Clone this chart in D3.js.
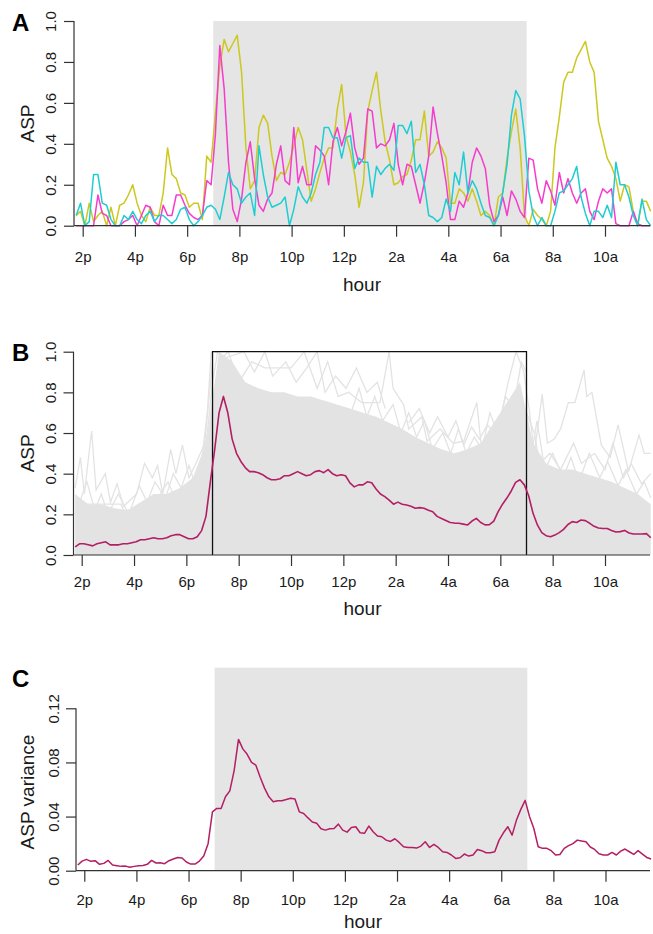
<!DOCTYPE html>
<html>
<head>
<meta charset="utf-8">
<script src="https://cdnjs.cloudflare.com/ajax/libs/d3/7.8.5/d3.min.js"></script>
<style>
body { margin: 0; background: #fff; }
svg text { font-family: "Liberation Sans", Arial, Helvetica, sans-serif; fill: #1a1a1a; }
</style>
</head>
<body>
<div id="chart"></div>
<script>

// ten minute bins, in hours after 2p (first bin is 1:45p)
var binStart = -0.25;
var binHours = 1 / 6;

var hourTicks = [0, 2, 4, 6, 8, 10, 12, 14, 16, 18, 20];
var hourLabels = ["2p", "4p", "6p", "8p", "10p", "12p", "2a", "4a", "6a", "8a", "10a"];
var lightsOff = 5;   // 7p
var lightsOn = 17;   // 7a

var aspTicks = [0, 0.2, 0.4, 0.6, 0.8, 1.0];
var varTicks = [0, 0.04, 0.08, 0.12];

// panel A: three single animals
var aspYellow = [0.05,0.07,0,0.11,0.02,0.05,0.07,0,0.09,0, 0.10,0.11,0.15,0.20,0.11,0.05,0.02,0.09,0.05,0.05,
    0.16,0.38,0.25,0.23,0.16,0.15,0.09,0.11,0.11,0.03, 0.34,0.31,0.55,0.78,
    0.91,0.85,0.89,0.93,0.75,0.38,0.18,0.22,0.48,0.54, 0.50,0.34,0.22,0.26,0.25,0.31,0.39,0.48,0.42,0.27,
    0.12,0.18,0.26,0.33,0.38,0.38,0.57,0.69,0.44,0.36, 0.25,0.09,0.21,
    0.56,0.66,0.75,0.56,0.41,0.32,0.20,0.21,0.24,0.25, 0.32,0.42,0.42,0.56,0.34,0.36,0.41,0.38,0.33,0.11,
    0.11,0.18,0.16,0.12,0.18,0.12,0.05,0.07,0.05,0, 0.14,0.16,0.33,
    0.46,0.57,0.38,0.05,0,0.08,0.05,0.03,0,0.07, 0.38,0.53,0.70,0.75,0.75,0.82,0.86,0.90,0.80,0.75,
    0.51,0.42,0.33,0.29,0.23,0.12,0.20,0.19,0.07,0, 0.12,0.12,0.07];

var aspCyan = [0.05,0.11,0,0.02,0.25,0.25,0.11,0.10,0.03,0, 0,0.05,0.03,0.07,0.03,0.01,0.05,0.07,0.02,0.05,
    0.05,0.03,0.01,0.03,0.08,0.09,0.03,0,0.02,0.05, 0.09,0.10,0.08,0.03,
    0.14,0.26,0.20,0.18,0.11,0.14,0.16,0.05,0.39,0.25, 0.14,0.09,0.10,0.11,0.14,0,0.08,0.19,0.14,0.11,
    0.16,0.25,0.31,0.48,0.48,0.43,0.43,0.33,0.43,0.44, 0.28,0.33,0.31,
    0.31,0.14,0.29,0.25,0.28,0.30,0.27,0.49,0.49,0.45, 0.51,0.26,0.30,0.20,0.05,0.04,0.02,0.04,0.13,0.07,
    0.26,0.20,0.36,0.16,0.22,0.18,0.11,0.05,0.04,0, 0.05,0.16,0.30,
    0.54,0.66,0.62,0.44,0.17,0.05,0,0.04,0,0, 0.07,0.16,0.17,0.20,0.23,0.29,0.14,0.06,0,0.07,
    0.07,0.04,0.10,0.04,0.31,0.20,0.20,0.14,0.05,0, 0.13,0.03,0];

var aspMagenta = [0,0,0,0,0,0.15,0.06,0.05,0,0, 0,0.02,0.03,0.05,0,0.05,0.10,0.09,0.02,0,
    0.10,0.05,0.05,0.15,0.15,0.10,0.06,0.04,0.03,0.05, 0.22,0.20,0.45,0.88,
    0.67,0.31,0.08,0.02,0.13,0.31,0.41,0.23,0.10,0.07, 0.13,0.16,0.30,0.39,0.22,0.20,0.48,0.21,0.29,0.20,
    0.20,0.39,0.37,0.34,0.20,0.41,0.48,0.39,0.46,0.55, 0.38,0.30,0.33,
    0.57,0.56,0.38,0.40,0.39,0.42,0.50,0.30,0.20,0.30, 0.29,0.20,0.11,0.21,0.34,0.58,0.45,0.34,0.21,0.03,
    0.03,0.12,0.09,0.16,0.31,0.38,0.34,0.28,0.10,0.02, 0.05,0.14,0.05,
    0.17,0.13,0.07,0.04,0.33,0.32,0.18,0.11,0.22,0.17, 0.10,0.26,0.16,0.23,0.16,0.11,0.16,0.18,0.07,0.03,
    0.12,0.18,0.16,0.18,0.01,0,0,0,0.07,0.01, 0,0,0];

// panel B: population mean
var meanASP = [0.04,0.055,0.055,0.05,0.045,0.055,0.06,0.065,0.05,0.05, 0.05,0.055,0.055,0.06,0.065,0.075,0.075,0.08,0.085,0.08,
    0.08,0.085,0.095,0.10,0.10,0.09,0.08,0.08,0.09,0.12, 0.19,0.36,0.52,0.70,
    0.78,0.70,0.57,0.50,0.46,0.43,0.41,0.41,0.405,0.395, 0.38,0.37,0.37,0.375,0.39,0.39,0.40,0.41,0.40,0.39,
    0.395,0.41,0.415,0.405,0.42,0.40,0.39,0.395,0.39,0.355, 0.335,0.345,0.345,
    0.36,0.355,0.325,0.30,0.287,0.27,0.25,0.26,0.25,0.246, 0.24,0.23,0.233,0.23,0.22,0.213,0.19,0.18,0.17,0.16,
    0.157,0.156,0.152,0.148,0.167,0.18,0.16,0.148,0.149,0.167, 0.213,0.25,0.28,
    0.315,0.357,0.37,0.345,0.29,0.205,0.148,0.11,0.095,0.09, 0.098,0.11,0.126,0.15,0.164,0.16,0.172,0.169,0.156,0.141,
    0.133,0.13,0.13,0.121,0.113,0.115,0.121,0.108,0.103,0.103, 0.103,0.105,0.085];

// panel B: dense part of the individual traces, half hour steps from 1:45p
var cloudStart = -0.25;
var cloudHours = 0.5;
var cloudTop = [0.30,0.25,0.25,0.23,0.22,0.26,0.30,0.30,0.33,0.38, 0.55,1.0,0.95,0.85,0.82,0.80,0.80,0.78,0.78,0.76,
    0.74,0.72,0.70,0.68,0.65,0.62,0.58,0.55,0.52,0.50, 0.52,0.55,0.65,0.75,0.85,0.55,0.45,0.42,0.42,0.40,
    0.38,0.36,0.33,0.30,0.25];

// panel B: single traces that stick out of the cloud, [hour after 2p, ASP]
var traceEarly = [[-0.25,0.33],[-0.05,0.48],[0.1,0.3],[0.38,0.61],[0.55,0.32],[0.9,0.4],[1.1,0.26],[1.35,0.35],[1.6,0.24],
    [2.1,0.3],[2.4,0.45],[2.7,0.38],[2.9,0.44],[3.1,0.3],[3.4,0.52],[3.6,0.4],[3.85,0.54],[4.1,0.38],[4.4,0.46],[4.7,0.55],[5.0,0.95]];
var traceFlat = [[-0.25,0.25],[1.5,0.25],[1.6,0.22],[2.9,0.22],[3.0,0.3],[3.3,0.36],[3.55,0.28],[4.0,0.33],[4.5,0.4],[4.8,0.6],[5.0,0.85],[5.2,1.0]];
var traceAfternoon = [[-0.25,0.2],[0.2,0.36],[0.5,0.22],[0.75,0.3],[1.0,0.2],[1.4,0.3],[1.8,0.2],[2.2,0.34],[2.5,0.26],
    [2.8,0.36],[3.2,0.28],[3.5,0.4],[3.8,0.33],[4.1,0.44],[4.3,0.36],[4.6,0.48],[4.8,0.7],[4.95,1.0]];
var traceNight = [[5.2,0.95],[5.6,1.0],[6.0,0.85],[6.5,0.95],[7.0,0.92],[7.5,0.92],[8.0,0.92],[8.5,1.0],[9.0,0.82],[9.4,0.95],
    [9.8,0.78],[10.2,0.8],[10.7,0.75],[11.4,0.75],[11.75,1.0],[11.9,0.82],[12.3,0.74],[12.5,0.62],[13.0,0.68],[13.2,0.56],
    [13.7,0.62],[14.2,0.55],[14.6,0.56],[15.1,0.75],[15.3,0.5],[15.8,0.55],[16.3,0.85],[16.6,1.0],[16.9,0.9],[17.0,0.8]];
var traceNight2 = [[5.1,1.0],[5.5,0.97],[6.2,1.0],[6.6,0.9],[7.0,1.0],[7.3,0.88],[7.8,0.95],[8.2,0.85],[8.6,0.92],[9.0,1.0],
    [9.3,0.8],[9.7,0.88],[10.1,0.82],[10.5,0.92],[10.9,0.8],[11.3,0.85],[11.6,0.72]];
var traceLate = [[10.3,0.7],[10.6,0.82],[10.9,0.68],[11.2,0.78],[11.5,0.66],[11.9,0.74],[12.2,0.6],[12.5,0.7],[12.8,0.58],
    [13.1,0.66],[13.4,0.52],[13.8,0.6],[14.1,0.5],[14.4,0.62],[14.7,0.5],[15.0,0.58],[15.3,0.52],[15.6,0.7],[15.9,0.6],
    [16.2,0.78],[16.5,0.72],[16.8,0.95],[17.0,0.9]];
var traceLate2 = [[12.5,0.65],[12.9,0.72],[13.3,0.6],[13.6,0.68],[14.0,0.58],[14.3,0.66],[14.6,0.54],[14.9,0.63],[15.2,0.57],
    [15.5,0.64],[15.8,0.6],[16.1,0.7]];
var traceMorning = [[17.0,0.8],[17.1,0.72],[17.3,0.5],[17.6,0.79],[17.8,0.55],[18.06,0.57],[18.3,0.62],[18.6,0.75],[18.85,0.75],
    [19.2,0.91],[19.3,0.78],[19.5,0.8],[19.86,0.54],[20.2,0.48],[20.5,0.64],[20.9,0.41],[21.3,0.59],[21.5,0.5],[21.75,0.5]];
var traceMorning2 = [[17.0,0.7],[17.3,0.6],[17.5,0.45],[17.9,0.5],[18.3,0.42],[18.8,0.55],[19.1,0.45],[19.6,0.5],[20.0,0.42],
    [20.3,0.55],[20.7,0.38],[21.0,0.45],[21.4,0.35],[21.75,0.4]];
var traceMorning3 = [[17.0,0.6],[17.2,0.5],[17.4,0.66],[17.7,0.42],[18.0,0.5],[18.4,0.38],[18.7,0.48],[19.0,0.36],[19.4,0.5],
    [19.8,0.38],[20.1,0.46],[20.5,0.34],[20.8,0.42],[21.2,0.3],[21.5,0.36],[21.75,0.28]];

// panel C: variance across animals
var varASP = [0.0042,0.0071,0.0084,0.0069,0.0074,0.0047,0.0054,0.0076,0.0042,0.0037, 0.0032,0.0034,0.0025,0.0032,0.0037,0.0039,0.0047,0.0076,0.0057,0.0059,
    0.0052,0.0074,0.0086,0.0098,0.0094,0.0064,0.0049,0.0049,0.0071,0.0108, 0.020,0.0435,0.046,0.046,
    0.0546,0.059,0.074,0.097,0.090,0.086,0.080,0.078,0.069,0.061, 0.0546,0.051,0.0517,0.0517,0.0526,0.0536,0.053,0.0435,0.0423,0.039,
    0.036,0.035,0.031,0.030,0.031,0.0312,0.0344,0.030,0.0285,0.032, 0.0325,0.028,0.0276,
    0.033,0.0288,0.0256,0.0251,0.0226,0.0216,0.0236,0.0209,0.0177,0.0172, 0.0172,0.0167,0.0182,0.0214,0.0172,0.0194,0.0172,0.014,0.0135,0.0116,
    0.0091,0.0096,0.0123,0.0108,0.0116,0.0157,0.0148,0.0133,0.0133,0.014, 0.0226,0.028,0.0325,
    0.0263,0.0374,0.0453,0.052,0.040,0.0312,0.0177,0.0165,0.0165,0.0148, 0.0116,0.012,0.0165,0.0185,0.020,0.0226,0.0219,0.0214,0.0175,0.0157,
    0.0125,0.0116,0.0116,0.0135,0.0116,0.0145,0.016,0.014,0.012,0.0148, 0.0123,0.0098,0.0086];


var svg = d3.select("#chart")
    .append("svg")
    .attr("width", 653)
    .attr("height", 934);

var xRight = 650;

//build scales for one panel
function makePanel(cfg) {
    var p = { cfg: cfg };
    p.x = d3.scaleLinear().domain([0, 20]).range([cfg.x2p, cfg.x10a]);
    p.y = d3.scaleLinear().domain([0, cfg.yTop]).range([cfg.yZero, cfg.yTopPx]);
    p.g = svg.append("g");
    return p;
}

function binLine(p) {
    return d3.line()
        .x(function(d, i) { return p.x(binStart + i * binHours); })
        .y(function(d) { return p.y(d); });
}

function pairLine(p) {
    return d3.line()
        .x(function(d) { return p.x(d[0]); })
        .y(function(d) { return p.y(d[1]); });
}

function drawAxes(p) {
    var cfg = p.cfg;
    var ink = "#333";

    var gx = p.g.append("g")
        .attr("transform", `translate(0, ${cfg.yZero})`)
        .attr("color", ink)
        .call(d3.axisBottom(p.x).tickValues(hourTicks)
            .tickFormat(function(d, i) { return hourLabels[i]; })
            .tickSize(11));
    gx.select(".domain").remove();
    gx.selectAll("line").attr("stroke-width", 1.2);
    gx.selectAll("text")
        .attr("y", cfg.tickBase - cfg.yZero)
        .attr("dy", 0)
        .style("font-size", "15px");

    p.g.append("line")
        .attr("x1", cfg.axisX).attr("x2", xRight)
        .attr("y1", cfg.yZero).attr("y2", cfg.yZero)
        .attr("stroke", ink).attr("stroke-width", 1.2);

    var gy = p.g.append("g")
        .attr("transform", `translate(${cfg.axisX}, 0)`)
        .attr("color", ink)
        .call(d3.axisLeft(p.y).tickValues(cfg.ticks)
            .tickFormat(d3.format(cfg.fmt))
            .tickSize(10));
    gy.select(".domain").remove();
    gy.selectAll("line").attr("stroke-width", 1.2);
    gy.selectAll("text")
        .attr("transform", "rotate(-90)")
        .attr("x", 0)
        .attr("y", -cfg.tickGap)
        .attr("dy", 0)
        .attr("text-anchor", "middle")
        .style("font-size", "15px");

    p.g.append("line")
        .attr("x1", cfg.axisX).attr("x2", cfg.axisX)
        .attr("y1", p.y(0)).attr("y2", p.y(cfg.ticks[cfg.ticks.length - 1]))
        .attr("stroke", ink).attr("stroke-width", 1.2);

    p.g.append("text")
        .attr("x", cfg.hourX).attr("y", cfg.hourBase)
        .attr("text-anchor", "middle")
        .style("font-size", "19px")
        .text("hour");

    p.g.append("text")
        .attr("transform", `translate(${cfg.titleX}, ${cfg.titleY}) rotate(-90)`)
        .attr("text-anchor", "middle")
        .style("font-size", "19px")
        .text(cfg.title);

    p.g.append("text")
        .attr("x", 12).attr("y", cfg.letterBase)
        .style("font-size", "24px")
        .style("font-weight", "bold")
        .style("fill", "#000")
        .text(cfg.letter);
}

//panel A
var pA = makePanel({ x2p: 82.7, x10a: 605, yZero: 225.7, yTopPx: 21, yTop: 1, axisX: 74,
    ticks: aspTicks, fmt: ".1f", tickGap: 18, tickBase: 262, hourX: 362, hourBase: 291,
    title: "ASP", titleX: 34, titleY: 123.5, letter: "A", letterBase: 31 });

pA.g.append("rect")
    .attr("x", pA.x(lightsOff)).attr("y", pA.y(1))
    .attr("width", pA.x(lightsOn) - pA.x(lightsOff))
    .attr("height", pA.y(0) - pA.y(1))
    .attr("fill", "#e5e5e5");

var seriesA = [
    { name: "yellow", values: aspYellow, color: "#cdc81e" },
    { name: "magenta", values: aspMagenta, color: "#f53ccd" },
    { name: "cyan", values: aspCyan, color: "#1ecdd2" }
];

pA.g.selectAll(".animal")
    .data(seriesA)
    .join("path")
    .attr("class", "animal")
    .attr("fill", "none")
    .attr("stroke", function(d) { return d.color; })
    .attr("stroke-width", 1.5)
    .attr("stroke-linejoin", "round")
    .attr("d", function(d) { return binLine(pA)(d.values); });

drawAxes(pA);

//panel B
var pB = makePanel({ x2p: 81.7, x10a: 605, yZero: 555, yTopPx: 351.7, yTop: 1, axisX: 73.5,
    ticks: aspTicks, fmt: ".1f", tickGap: 18, tickBase: 587, hourX: 362.5, hourBase: 615,
    title: "ASP", titleX: 34, titleY: 453.3, letter: "B", letterBase: 361 });

var cloudArea = d3.area()
    .x(function(d, i) { return pB.x(cloudStart + i * cloudHours); })
    .y0(pB.y(0))
    .y1(function(d) { return pB.y(d); });

pB.g.append("path")
    .attr("d", cloudArea(cloudTop))
    .attr("fill", "#e3e3e3");

var greyTraces = [traceEarly, traceFlat, traceAfternoon, traceNight, traceNight2, traceLate, traceLate2,
    traceMorning, traceMorning2, traceMorning3];

pB.g.selectAll(".trace")
    .data(greyTraces)
    .join("path")
    .attr("class", "trace")
    .attr("fill", "none")
    .attr("stroke", "#e3e3e3")
    .attr("stroke-width", 1.3)
    .attr("d", function(d) { return pairLine(pB)(d); });

pB.g.append("path")
    .attr("d", `M${pB.x(lightsOff)},${pB.y(0)}V${pB.y(1)}H${pB.x(lightsOn)}V${pB.y(0)}`)
    .attr("fill", "none")
    .attr("stroke", "#111")
    .attr("stroke-width", 1.3);

pB.g.append("path")
    .attr("d", binLine(pB)(meanASP))
    .attr("fill", "none")
    .attr("stroke", "#b41e64")
    .attr("stroke-width", 1.6)
    .attr("stroke-linejoin", "round");

drawAxes(pB);

//panel C
var pC = makePanel({ x2p: 84.3, x10a: 605.5, yZero: 870.7, yTopPx: 667.7, yTop: 0.15, axisX: 76,
    ticks: varTicks, fmt: ".2f", tickGap: 17, tickBase: 905, hourX: 363, hourBase: 928,
    title: "ASP variance", titleX: 34, titleY: 792, letter: "C", letterBase: 687 });

pC.g.append("rect")
    .attr("x", pC.x(lightsOff)).attr("y", pC.y(0.15))
    .attr("width", pC.x(lightsOn) - pC.x(lightsOff))
    .attr("height", pC.y(0) - pC.y(0.15))
    .attr("fill", "#e5e5e5");

pC.g.append("path")
    .attr("d", binLine(pC)(varASP))
    .attr("fill", "none")
    .attr("stroke", "#b41e64")
    .attr("stroke-width", 1.5)
    .attr("stroke-linejoin", "round");

drawAxes(pC);

</script>
</body>
</html>
